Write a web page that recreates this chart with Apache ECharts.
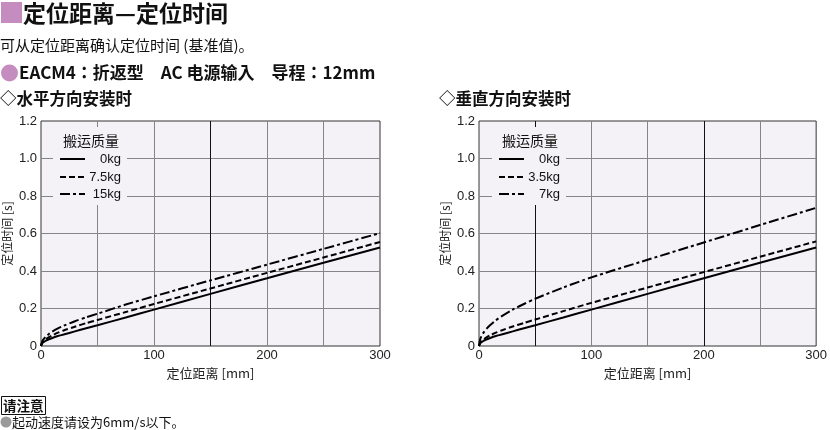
<!DOCTYPE html>
<html><head><meta charset="utf-8">
<script src="https://cdn.jsdelivr.net/npm/echarts@6/dist/echarts.min.js"></script>
<style>html,body{margin:0;padding:0;background:#fff}#c{width:830px;height:430px}</style>
</head><body><div id="c"></div>
<script>
// ---- data ----
const xTicks = [0, 100, 200, 300];
const yTicks = [0, 0.2, 0.4, 0.6, 0.8, 1.0, 1.2];
const legendTitle = '搬运质量';
const hLabels = ['0kg', '7.5kg', '15kg'];
const vLabels = ['0kg', '3.5kg', '7kg'];
const dist = [0, 1, 2, 4, 7, 10, 15, 20, 30, 40, 50, 75, 100, 150, 200, 250, 300];
const h0   = [0, 0.014, 0.019, 0.027, 0.036, 0.043, 0.053, 0.061, 0.078, 0.095, 0.111, 0.152, 0.194, 0.278, 0.361, 0.444, 0.525];
const h75  = [0, 0.016, 0.024, 0.035, 0.047, 0.057, 0.071, 0.083, 0.103, 0.122, 0.139, 0.181, 0.224, 0.307, 0.390, 0.472, 0.555];
const h15  = [0, 0.024, 0.034, 0.048, 0.064, 0.077, 0.094, 0.108, 0.132, 0.153, 0.172, 0.221, 0.265, 0.350, 0.434, 0.518, 0.602];
const v0   = [0, 0.014, 0.019, 0.027, 0.036, 0.043, 0.053, 0.061, 0.078, 0.095, 0.111, 0.152, 0.194, 0.278, 0.361, 0.444, 0.525];
const v35  = [0, 0.016, 0.024, 0.035, 0.047, 0.057, 0.071, 0.083, 0.104, 0.123, 0.141, 0.186, 0.230, 0.312, 0.394, 0.476, 0.558];
const v7   = [0, 0.035, 0.050, 0.071, 0.094, 0.112, 0.137, 0.158, 0.194, 0.224, 0.252, 0.312, 0.366, 0.460, 0.552, 0.645, 0.737];

const pair = (ys) => dist.map((d, i) => [d, ys[i]]);
const CJK = '"Noto Sans CJK SC","Noto Sans CJK JP",sans-serif';
const JP = '"Noto Sans CJK JP","Noto Sans CJK SC",sans-serif';
const NUM = '"Liberation Sans Narrow","Liberation Sans",Arial,sans-serif';
const styles = ['solid', [6, 3], [10, 3, 3, 3]];
const plotBg = '#f5f2f7';
const gridC = '#858585';

const chart = echarts.init(document.getElementById('c'), null, {renderer: 'canvas'});

function xAx(gi, colors) {
  return {
    type: 'value', gridIndex: gi, min: 0, max: 300, interval: 50,
    name: '定位距离 [mm]', nameLocation: 'middle', nameGap: 18,
    nameTextStyle: {fontFamily: CJK, fontSize: 13, color: '#222'},
    axisLine: {show: false}, axisTick: {show: false},
    axisLabel: {fontFamily: NUM, fontSize: 13, color: '#222', margin: 3,
      formatter: v => xTicks.indexOf(v) >= 0 ? String(v) : ''},
    splitLine: {show: true, showMinLine: false, showMaxLine: false,
      lineStyle: {color: colors, width: 1}}
  };
}
function yAx(gi) {
  return {
    type: 'value', gridIndex: gi, min: 0, max: 1.2, interval: 0.2,
    name: '定位时间 [s]', nameLocation: 'middle', nameGap: 28, nameRotate: 90,
    nameTextStyle: {fontFamily: CJK, fontSize: 12, color: '#222'},
    axisLine: {show: false}, axisTick: {show: false},
    axisLabel: {fontFamily: NUM, fontSize: 13, color: '#222', margin: 4,
      formatter: v => { const t = yTicks.find(k => Math.abs(k - v) < 1e-9); return t === 0 ? '0' : (t !== undefined ? t.toFixed(1) : ''); }},
    splitLine: {show: true, showMinLine: false, showMaxLine: false,
      lineStyle: {color: gridC, width: 1}}
  };
}
function ser(gi, ys, k) {
  return {type: 'line', xAxisIndex: gi, yAxisIndex: gi, data: pair(ys), smooth: 0.25,
    symbol: 'none', silent: true,
    lineStyle: {color: '#000', width: 2, type: styles[k]}};
}

function legendGraphics(x0, labels) {
  const g = [];
  g.push({type: 'rect', z: 50, shape: {x: x0 + 13, y: 127, width: 74, height: 78}, style: {fill: plotBg}});
  g.push({type: 'text', z: 51, style: {text: legendTitle, x: x0 + 51, y: 141, textAlign: 'center', align: 'center',
    textVerticalAlign: 'middle', verticalAlign: 'middle', font: '14px ' + JP, fill: '#111'}});
  const ys = [159, 177, 194];
  labels.forEach((lab, i) => {
    g.push({type: 'line', z: 51, shape: {x1: x0 + 20, y1: ys[i], x2: x0 + 45, y2: ys[i]},
      style: {stroke: '#000', lineWidth: 2, lineDash: styles[i] === 'solid' ? null : styles[i]}});
    g.push({type: 'text', z: 51, style: {text: lab, x: x0 + 81, y: ys[i], textAlign: 'right', align: 'right',
      textVerticalAlign: 'middle', verticalAlign: 'middle', font: '13px ' + NUM, fill: '#111'}});
  });
  return g;
}

function txt(text, x, y, font, fill) {
  return {type: 'text', style: {text, x, y, font, fill: fill || '#111', textVerticalAlign: 'middle', verticalAlign: 'middle'}};
}

const graphics = [
  {type: 'rect', shape: {x: 1, y: 2, width: 21, height: 21}, style: {fill: '#c58cc0'}},
  txt('定位距离—定位时间', 23, 13, 'bold 23px ' + JP, '#111'),
  txt('可从定位距离确认定位时间 (基准值)。', 0, 45, '15px ' + JP, '#111'),
  {type: 'circle', shape: {cx: 9.5, cy: 73, r: 8.5}, style: {fill: '#c58cc0'}},
  txt('EACM4：折返型　AC 电源输入　导程：12mm', 19, 73, 'bold 17px ' + JP, '#111'),
  txt('◇水平方向安装时', 0, 99, 'bold 16.5px ' + JP, '#111'),
  txt('◇垂直方向安装时', 439, 99, 'bold 16.5px ' + JP, '#111'),
  {type: 'rect', shape: {x: 1.5, y: 396.5, width: 44, height: 18}, style: {fill: '#fff', stroke: '#111', lineWidth: 1}},
  txt('请注意', 3, 406, 'bold 13.5px ' + JP, '#111'),
  {type: 'circle', shape: {cx: 6, cy: 422, r: 5.5}, style: {fill: '#9a9a9a'}},
  txt('起动速度请设为6mm/s以下。', 12, 422, '13px ' + JP, '#111')
].concat(legendGraphics(40, hLabels), legendGraphics(479, vLabels));

chart.setOption({
  animation: false,
  backgroundColor: '#fff',
  grid: [
    {left: 40, top: 121, width: 340, height: 225, show: true, backgroundColor: plotBg, borderColor: '#333', borderWidth: 1},
    {left: 479, top: 121, width: 340, height: 225, show: true, backgroundColor: plotBg, borderColor: '#333', borderWidth: 1}
  ],
  xAxis: [xAx(0, [gridC, gridC, '#111', gridC, gridC]), xAx(1, ['#111', gridC, gridC, '#111', gridC])],
  yAxis: [yAx(0), yAx(1)],
  series: [ser(0, h0, 0), ser(0, h75, 1), ser(0, h15, 2), ser(1, v0, 0), ser(1, v35, 1), ser(1, v7, 2)],
  graphic: graphics
});
</script></body></html>
